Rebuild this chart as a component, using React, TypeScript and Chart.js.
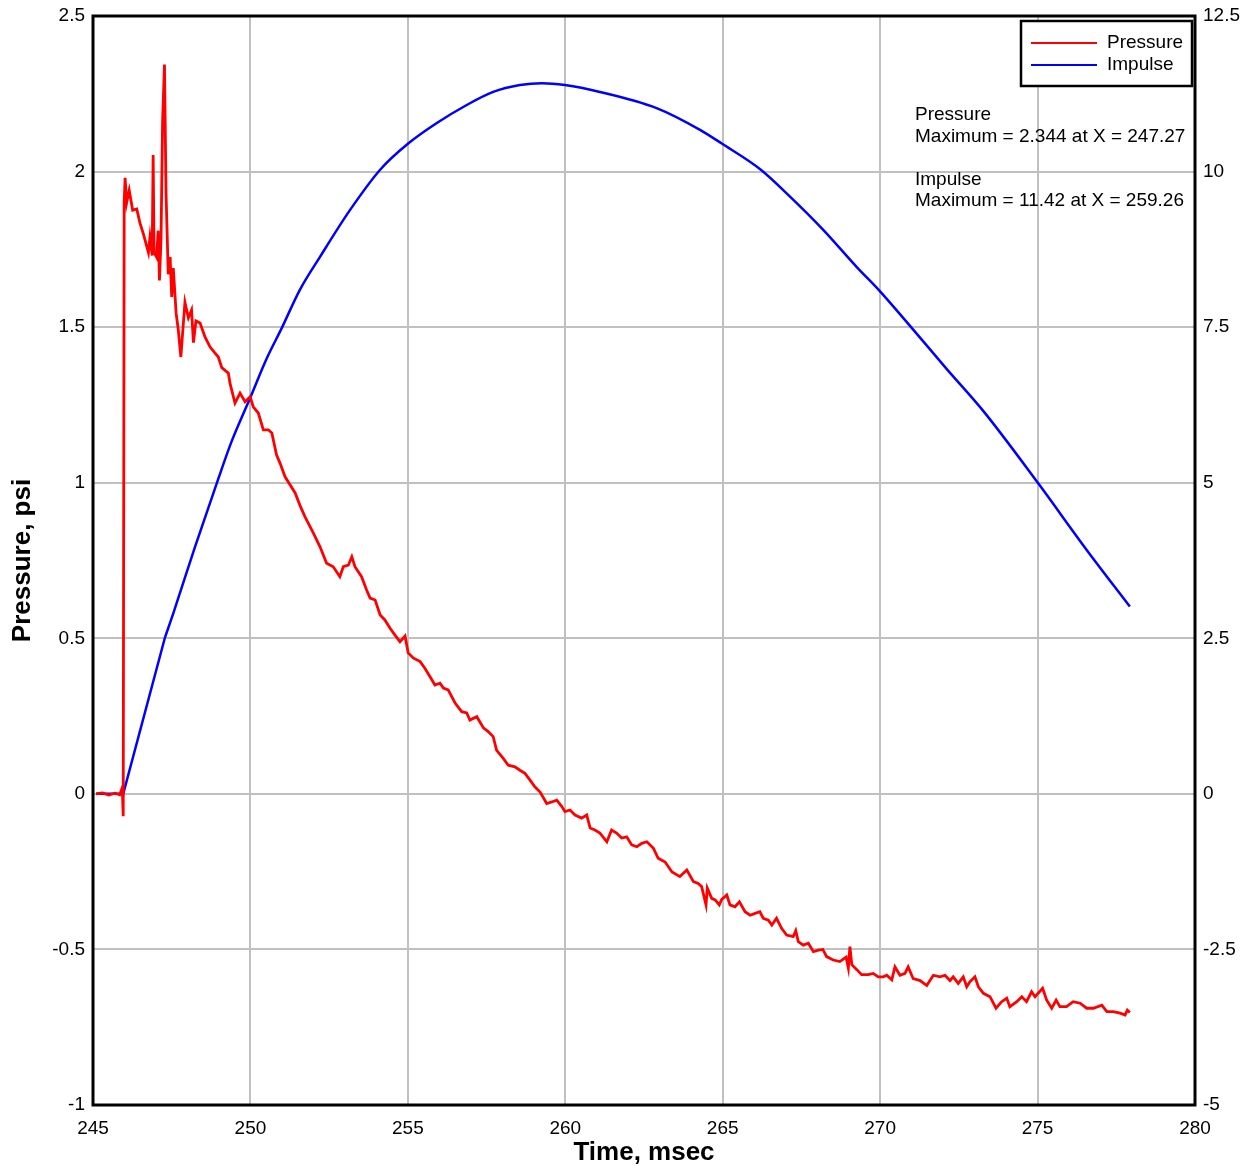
import React, { useEffect, useRef } from "react";
import { Chart, registerables } from "chart.js";

Chart.register(...registerables);

const FONT = "'Liberation Sans', Arial, Helvetica, sans-serif";

// X axis (Time, msec)
const xMin = 245;
const xMax = 280;
const xStep = 5;
// Left axis (Pressure, psi)
const yMin = -1;
const yMax = 2.5;
const yStep = 0.5;
// Right axis (Impulse)
const y2Min = -5;
const y2Max = 12.5;
const y2Step = 2.5;

const seriesNames = ["Pressure", "Impulse"];

const pressureTime = [
  245.1, 245.3, 245.5, 245.7, 245.85, 245.93, 245.96, 245.99, 246.02, 246.07,
  246.15, 246.26, 246.39, 246.49, 246.6, 246.76, 246.81, 246.88, 246.91, 246.94,
  247.02, 247.07, 247.11, 247.16, 247.21, 247.27, 247.32, 247.39, 247.45, 247.5,
  247.55, 247.64, 247.71, 247.79, 247.92, 248.03, 248.13, 248.19, 248.27, 248.4,
  248.56, 248.72, 248.87, 248.98, 249.09, 249.3, 249.35, 249.51, 249.67, 249.83,
  249.99, 250.09, 250.25, 250.41, 250.57, 250.68, 250.83, 250.94, 251.1, 251.42,
  251.57, 251.73, 252.0, 252.21, 252.42, 252.63, 252.84, 252.95, 253.11, 253.22,
  253.32, 253.53, 253.69, 253.8, 253.96, 254.12, 254.27, 254.43, 254.59, 254.75,
  254.91, 255.01, 255.17, 255.39, 255.54, 255.7, 255.86, 256.02, 256.13, 256.28,
  256.5, 256.71, 256.87, 256.97, 257.19, 257.4, 257.55, 257.71, 257.82, 258.03,
  258.19, 258.4, 258.56, 258.72, 258.88, 259.04, 259.2, 259.41, 259.57, 259.73,
  259.89, 259.99, 260.15, 260.31, 260.52, 260.68, 260.79, 260.94, 261.1, 261.32,
  261.47, 261.63, 261.79, 261.95, 262.11, 262.27, 262.43, 262.59, 262.8, 262.95,
  263.17, 263.39, 263.64, 263.86, 264.07, 264.22, 264.33, 264.47, 264.51, 264.65,
  264.76, 264.89, 264.97, 265.13, 265.23, 265.39, 265.53, 265.71, 265.87, 266.03,
  266.18, 266.29, 266.45, 266.56, 266.71, 266.87, 267.03, 267.24, 267.32, 267.4,
  267.56, 267.72, 267.88, 268.04, 268.18, 268.3, 268.51, 268.72, 268.92, 268.99,
  269.04, 269.1, 269.26, 269.41, 269.62, 269.78, 269.94, 270.1, 270.21, 270.37,
  270.47, 270.63, 270.79, 270.89, 271.05, 271.27, 271.48, 271.69, 271.9, 272.06,
  272.22, 272.32, 272.48, 272.64, 272.75, 272.85, 273.01, 273.12, 273.28, 273.49,
  273.68, 273.86, 274.02, 274.12, 274.34, 274.5, 274.65, 274.81, 274.92, 275.16,
  275.29, 275.45, 275.59, 275.71, 275.92, 276.13, 276.35, 276.56, 276.77, 277.04,
  277.2, 277.4, 277.62, 277.78, 277.85, 277.93,
];

const pressureValues = [
  0.0, 0.003, -0.004, 0.002, -0.003, 0.02, -0.072, 1.9, 1.98, 1.9,
  1.94, 1.876, 1.88, 1.835, 1.8, 1.74, 1.79, 1.73, 2.053, 1.74,
  1.725, 1.81, 1.65, 1.78, 2.16, 2.344, 1.93, 1.67, 1.725, 1.597,
  1.69, 1.545, 1.49, 1.404, 1.58, 1.53, 1.555, 1.45, 1.52, 1.513,
  1.468, 1.436, 1.417, 1.404, 1.37, 1.352, 1.32, 1.256, 1.288, 1.26,
  1.276, 1.244, 1.224, 1.17, 1.17, 1.16, 1.089, 1.063, 1.019, 0.967,
  0.928, 0.891, 0.838, 0.794, 0.741, 0.73, 0.698, 0.73, 0.735, 0.762,
  0.73, 0.698, 0.655, 0.629, 0.623, 0.575, 0.559, 0.533, 0.51, 0.489,
  0.507, 0.453, 0.437, 0.425, 0.404, 0.377, 0.35, 0.356, 0.34, 0.334,
  0.292, 0.264, 0.26, 0.237, 0.248, 0.212, 0.2, 0.184, 0.14, 0.114,
  0.092, 0.087, 0.076, 0.066, 0.044, 0.022, 0.006, -0.031, -0.026, -0.02,
  -0.041, -0.057, -0.052, -0.068, -0.078, -0.068, -0.11, -0.116, -0.126, -0.154,
  -0.116, -0.126, -0.142, -0.138, -0.164, -0.17, -0.159, -0.154, -0.175, -0.207,
  -0.219, -0.251, -0.266, -0.245, -0.282, -0.288, -0.298, -0.357, -0.303, -0.336,
  -0.341, -0.357, -0.339, -0.325, -0.357, -0.363, -0.347, -0.379, -0.39, -0.384,
  -0.379, -0.4, -0.406, -0.422, -0.4, -0.432, -0.454, -0.459, -0.44, -0.475,
  -0.486, -0.48, -0.507, -0.502, -0.5, -0.523, -0.534, -0.539, -0.525, -0.56,
  -0.491, -0.549, -0.565, -0.581, -0.581, -0.577, -0.588, -0.588, -0.583, -0.598,
  -0.556, -0.583, -0.577, -0.556, -0.594, -0.6, -0.616, -0.583, -0.588, -0.583,
  -0.6, -0.588, -0.609, -0.588, -0.62, -0.604, -0.588, -0.62, -0.641, -0.652,
  -0.689, -0.668, -0.657, -0.684, -0.668, -0.652, -0.668, -0.636, -0.652, -0.625,
  -0.663, -0.689, -0.663, -0.684, -0.684, -0.668, -0.673, -0.689, -0.689, -0.679,
  -0.7, -0.7, -0.705, -0.711, -0.695, -0.703,
];

const impulseTime = [
  245.1, 245.96, 247.29, 247.55, 248.24, 248.93, 249.4, 249.99, 250.52, 250.99,
  251.57, 252.21, 253.16, 254.12, 255.01, 255.92, 256.87, 257.71, 258.56, 259.26,
  259.99, 261.1, 262.9, 264.28, 264.97, 266.21, 267.03, 268.2, 269.25, 269.99,
  271.05, 272.11, 273.28, 275.02, 276.56, 277.93,
];

const impulseValues = [
  0, 0, 2.52, 2.9, 3.97, 4.99, 5.66, 6.36, 7.0, 7.48,
  8.1, 8.63, 9.38, 10.03, 10.45, 10.78, 11.07, 11.28, 11.39, 11.42,
  11.39, 11.28, 11.02, 10.67, 10.45, 10.03, 9.65, 9.06, 8.47, 8.08,
  7.46, 6.83, 6.15, 4.99, 3.92, 3.01,
];

// the impulse trace is straight up to its first knee, then a smooth curve
const impulseKnee = 2;

function maxOf(times: number[], values: number[]) {
  let idx = 0;
  for (let i = 1; i < values.length; i++) if (values[i] > values[idx]) idx = i;
  return { x: times[idx], y: values[idx] };
}

const fmtTick = (v: number | string) => String(Math.round(Number(v) * 1000) / 1000);

export default function App() {
  const canvasRef = useRef<HTMLCanvasElement | null>(null);

  useEffect(() => {
    const canvas = canvasRef.current;
    if (!canvas) return;

    const pMax = maxOf(pressureTime, pressureValues);
    const iMax = maxOf(impulseTime, impulseValues);
    const notes = [
      seriesNames[0],
      `Maximum = ${pMax.y.toFixed(3)} at X = ${pMax.x.toFixed(2)}`,
      seriesNames[1],
      `Maximum = ${iMax.y.toFixed(2)} at X = ${iMax.x.toFixed(2)}`,
    ];

    const overlay = {
      id: "overlay",
      afterDraw(chart: any) {
        const { ctx, chartArea: a } = chart;
        ctx.save();
        // frame
        ctx.strokeStyle = "#000";
        ctx.lineWidth = 3;
        ctx.strokeRect(a.left, a.top, a.right - a.left, a.bottom - a.top);

        // legend box
        const bx = a.right - 174;
        const by = a.top + 5;
        const bw = 171;
        const bh = 65;
        ctx.fillStyle = "#fff";
        ctx.fillRect(bx, by, bw, bh);
        ctx.strokeStyle = "#000";
        ctx.lineWidth = 2.5;
        ctx.strokeRect(bx, by, bw, bh);
        const colors = ["#ff0000", "#0000ff"];
        ctx.font = `19px ${FONT}`;
        ctx.textBaseline = "middle";
        ctx.textAlign = "left";
        for (let i = 0; i < 2; i++) {
          const ly = by + 22 + i * 22;
          ctx.strokeStyle = colors[i];
          ctx.lineWidth = 2;
          ctx.beginPath();
          ctx.moveTo(bx + 10, ly);
          ctx.lineTo(bx + 76, ly);
          ctx.stroke();
          ctx.fillStyle = "#000";
          ctx.fillText(seriesNames[i], bx + 86, ly);
        }

        // annotations
        const tx = a.right - 280;
        const ys = [a.top + 99, a.top + 121, a.top + 164, a.top + 185];
        ctx.fillStyle = "#000";
        for (let i = 0; i < notes.length; i++) ctx.fillText(notes[i], tx, ys[i]);
        ctx.restore();
      },
    };

    const tickFont = { family: FONT, size: 19 };
    const yTickFont = { family: FONT, size: 19, lineHeight: 0.8 };
    const titleFont = { family: FONT, size: 26, weight: "bold" as const, lineHeight: 1 };

    const impulsePoints = impulseTime.map((t, i) => ({ x: t, y: impulseValues[i] }));

    const chart = new Chart(canvas, {
      type: "line",
      data: {
        datasets: [
          {
            label: seriesNames[0],
            data: pressureTime.map((t, i) => ({ x: t, y: pressureValues[i] })),
            borderColor: "#ff0000",
            borderWidth: 2.8,
            pointRadius: 0,
            tension: 0,
            yAxisID: "y",
          },
          {
            label: seriesNames[1],
            data: impulsePoints.slice(0, impulseKnee + 1),
            borderColor: "#0000ff",
            borderWidth: 2.5,
            pointRadius: 0,
            tension: 0,
            yAxisID: "y2",
          },
          {
            label: seriesNames[1],
            data: impulsePoints.slice(impulseKnee),
            borderColor: "#0000ff",
            borderWidth: 2.5,
            pointRadius: 0,
            cubicInterpolationMode: "monotone",
            yAxisID: "y2",
          },
        ],
      },
      options: {
        responsive: false,
        animation: false,
        devicePixelRatio: 1,
        layout: { padding: { top: 16, left: 0, right: 0, bottom: 0 } },
        plugins: { legend: { display: false }, tooltip: { enabled: false } },
        scales: {
          x: {
            type: "linear",
            min: xMin,
            max: xMax,
            ticks: { stepSize: xStep, padding: 12, font: tickFont, color: "#000", callback: fmtTick },
            grid: { color: "#c0c0c0", lineWidth: 2, drawTicks: false },
            border: { display: false },
            title: { display: true, text: "Time, msec", font: titleFont, color: "#000", padding: 0 },
            afterFit: (s: any) => {
              s.height = 61;
            },
          },
          y: {
            position: "left",
            min: yMin,
            max: yMax,
            ticks: { stepSize: yStep, padding: 8, font: yTickFont, color: "#000", callback: fmtTick },
            grid: { color: "#c0c0c0", lineWidth: 2, drawTicks: false },
            border: { display: false },
            title: { display: true, text: "Pressure, psi", font: titleFont, color: "#000", padding: { top: 10, bottom: 0 } },
            afterFit: (s: any) => {
              s.width = 93;
            },
          },
          y2: {
            position: "right",
            min: y2Min,
            max: y2Max,
            ticks: { stepSize: y2Step, padding: 8, font: yTickFont, color: "#000", callback: fmtTick },
            grid: { display: false, drawTicks: false },
            border: { display: false },
            afterFit: (s: any) => {
              s.width = 49;
            },
          },
        },
      },
      plugins: [overlay],
    } as any);

    return () => chart.destroy();
  }, []);

  return (
    <div style={{ position: "absolute", left: 0, top: 0, width: 1244, height: 1166, background: "#fff" }}>
      <canvas ref={canvasRef} width={1244} height={1166} style={{ display: "block", width: 1244, height: 1166 }} />
    </div>
  );
}
